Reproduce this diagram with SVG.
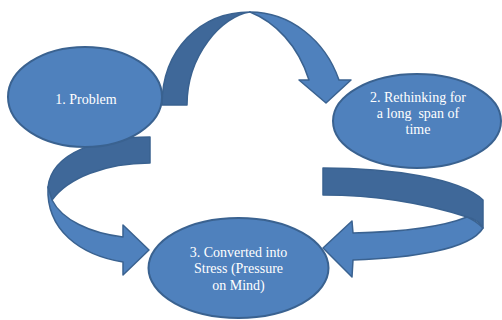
<svg xmlns="http://www.w3.org/2000/svg" width="502" height="320" viewBox="0 0 502 320">
<style>
.light{fill:#4F81BD;stroke:#3A6290;stroke-width:1.5;stroke-linejoin:round}
.dark{fill:#3F6899;stroke:#3A6290;stroke-width:1.5;stroke-linejoin:round}
.node{fill:#4F81BD;stroke:#3A6290;stroke-width:2}
.t{font-family:'Liberation Serif','DejaVu Serif',serif;font-size:14px;fill:#FFFFFF;text-anchor:middle}
</style>
<rect width="502" height="320" fill="#FFFFFF"/>
<g id="connectors">
<g id="arrow-1-2">
<path class="dark" d="M162,105 C162,50 200,12 250,12 C222,16 187,55 187,105 Z"/>
<path class="light" d="M250,12 C290,12 325,40 339,80 L351,80 L326,103 L299,80 L309,80 C298,45 275,22 250,12 Z"/>
</g>
<g id="arrow-1-3">
<path class="dark" d="M150,137 L150,163 C105,163 68,178 52,200 L48,187 C52,152 100,137 150,137 Z"/>
<path class="light" d="M48,187 C46,230 80,255 123,262 L123,275 L149,250 L123,225 L123,237 C90,233 62,220 52,200 Z"/>
</g>
<g id="arrow-2-3">
<path class="dark" d="M323,168 C390,168 460,178 483,200 L483,228 C480,222 475,219 467,217 C430,205 380,195 323,195 Z"/>
<path class="light" d="M467,217 C440,228 400,232 353,233 L352,221 L323,248 L352,277 L353,260 C410,258 470,250 483,228 C478,223 472,219 467,217 Z"/>
</g>
</g>
<g id="node1">
<ellipse class="node" cx="85" cy="97" rx="77" ry="50"/>
<text class="t" x="86" y="104">1. Problem</text>
</g>
<g id="node2">
<ellipse class="node" cx="417" cy="121" rx="84" ry="47"/>
<text class="t" x="418" y="102">2. Rethinking for</text>
<text class="t" x="418" y="118" xml:space="preserve">a long  span of</text>
<text class="t" x="418" y="134">time</text>
</g>
<g id="node3">
<ellipse class="node" cx="238.5" cy="268" rx="90" ry="50"/>
<text class="t" x="238.5" y="257">3. Converted into</text>
<text class="t" x="238.5" y="273">Stress (Pressure</text>
<text class="t" x="238.5" y="290">on Mind)</text>
</g>
</svg>
